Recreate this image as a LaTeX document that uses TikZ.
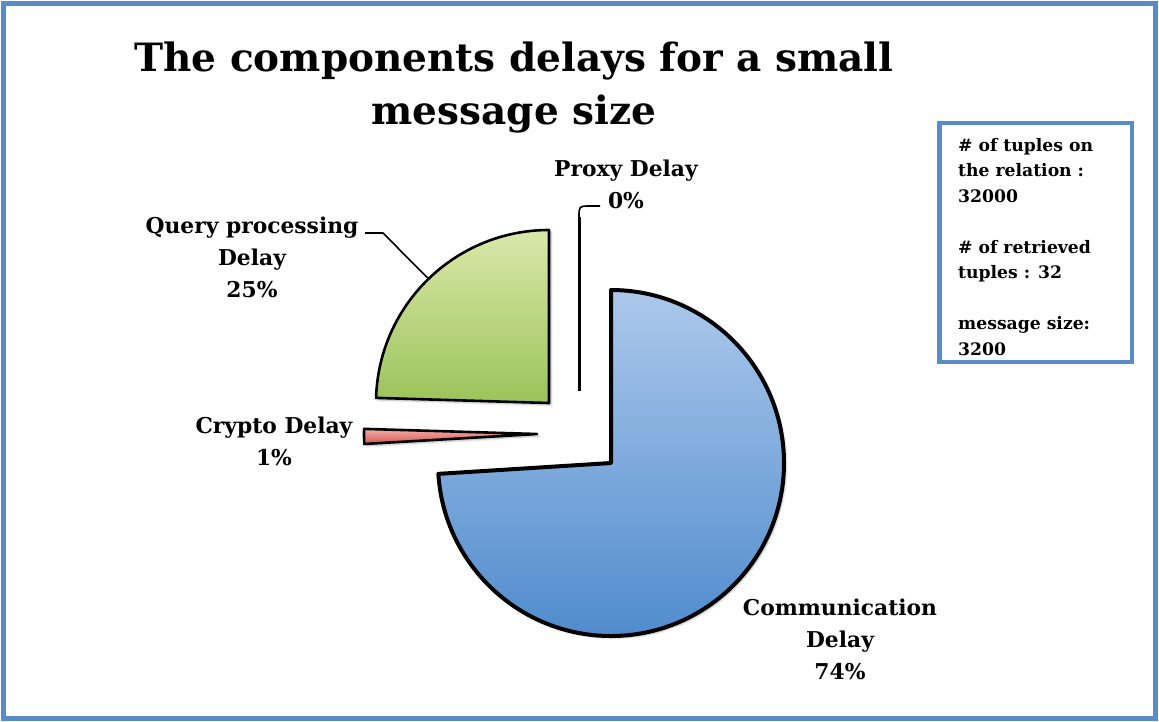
\documentclass[tikz,border=0pt]{standalone}
\usepackage{fontspec}
\setmainfont{DejaVu Serif}
\usetikzlibrary{calc,shadows.blur}

\definecolor{frameblue}{RGB}{88,140,200}
\definecolor{commtop}{RGB}{172,200,235}
\definecolor{commbot}{RGB}{80,140,205}
\definecolor{querytop}{RGB}{217,232,170}
\definecolor{querybot}{RGB}{156,195,90}
\definecolor{cryptotop}{RGB}{245,172,166}
\definecolor{cryptobot}{RGB}{214,88,84}

\begin{document}
\begin{tikzpicture}[x=1pt,y=-1pt,
  lbl/.style={font=\fontsize{21.8}{32}\selectfont\bfseries, align=center, anchor=base, inner sep=0pt},
  ttl/.style={font=\fontsize{39}{53}\selectfont\bfseries, align=center, anchor=base, inner sep=0pt},
  boxtxt/.style={font=\fontsize{17.2}{25.5}\selectfont\bfseries, align=left, anchor=base west, inner sep=0pt},
  wedge/.style={draw=black, line join=round,
    blur shadow={shadow xshift=2pt, shadow yshift=-2pt, shadow blur steps=6, shadow opacity=30}},
  leader/.style={draw=black, line width=1.6pt}]
  \useasboundingbox (0,0) rectangle (1159,721);

  % outer frame
  \draw[frameblue, line width=5pt] (3.5,3.5) rectangle (1155.5,718);

  % title (anchored at the baseline of its last line)
  \node[ttl] (title) at (514,124) {The components delays for a small\\message size};

  % wedge centres (the pie is exploded)
  \coordinate (cC) at (611,463);
  \coordinate (cQ) at (549,403);
  \coordinate (cK) at (537,434);
  \coordinate (cP) at (579,391);

  % Communication Delay 74%
  \path[wedge, line width=4pt, top color=commtop, bottom color=commbot]
    (cC) -- ++(90:173pt) arc[start angle=90, end angle=-176.4, radius=173pt] -- cycle;
  % Query processing Delay 25%
  \path[wedge, line width=2.6pt, top color=querytop, bottom color=querybot]
    (cQ) -- ++(90:173pt) arc[start angle=90, end angle=178.3, radius=173pt] -- cycle;
  % Crypto Delay 1%
  \path[wedge, line width=2.6pt, top color=cryptotop, bottom color=cryptobot]
    (cK) -- ++(178.3:173pt) arc[start angle=178.3, end angle=183.3, radius=173pt] -- cycle;
  % Proxy Delay 0%
  \draw[line width=3pt] (cP) -- ++(90:174pt) coordinate (pTop);

  % labels (anchored at the baseline of their last line)
  \node[lbl] (qlab) at (252,297) {Query processing\\Delay\\25\%};
  \node[lbl] (klab) at (274,465) {Crypto Delay\\1\%};
  \node[lbl] (clab) at (840,679) {Communication\\Delay\\74\%};
  \node[lbl] (plab) at (626,208) {Proxy Delay\\0\%};

  % leader lines
  \coordinate (qEdge) at ($(cQ)+(134.15:173pt)$);
  \coordinate (qEnd) at (365,233);
  \draw[leader] (qEdge) -- (383,233) -- (qEnd);
  \coordinate (pEnd) at (600,206);
  \draw[leader] (pTop) .. controls (579,206) .. (590,206) -- (pEnd);

  % info box
  \draw[frameblue, line width=4.5pt] (939.5,123) rectangle (1132,362);
  \node[boxtxt] (info) at (958,355)
    {\# of tuples on\\the relation :\\32000\\[25.5pt]\# of retrieved\\tuples : 32\\[25.5pt]message size:\\3200};
\end{tikzpicture}
\end{document}
